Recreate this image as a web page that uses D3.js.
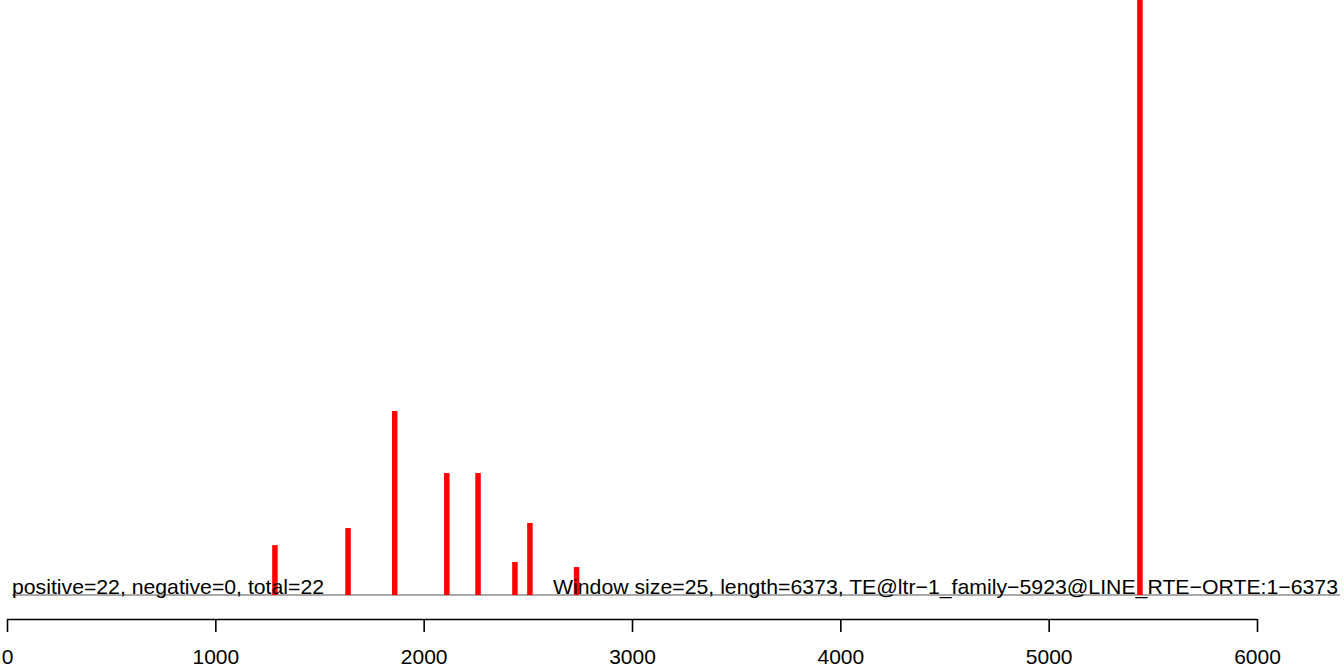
<!DOCTYPE html>
<html>
<head>
<meta charset="utf-8">
<script src="https://cdn.jsdelivr.net/npm/d3@7"></script>
<style>
  html, body { margin: 0; padding: 0; background: #fff; }
  svg { display: block; }
  text { font-family: "Liberation Sans", Arial, Helvetica, sans-serif; }
</style>
</head>
<body>
<svg id="chart" width="1344" height="665"></svg>
<script>
// Data
const positions = [1286, 1637, 1861, 2111, 2261, 2438, 2510, 2734, 5438];
const values    = [3.02, 4.05, 11.13, 7.38, 7.38, 2.0, 4.36, 1.69, 36];
const xTicks    = [0, 1000, 2000, 3000, 4000, 5000, 6000];
const leftLabel  = "positive=22, negative=0, total=22";
const rightLabel = "Window size=25, length=6373, TE@ltr\u22121_family\u22125923@LINE_RTE\u2212ORTE:1\u22126373";

const svg = d3.select("#chart");
const x = d3.scaleLinear().domain([0, 6000]).range([7, 1257]);
const y = d3.scaleLinear().domain([0, 36]).range([595, 0]);

// baseline
svg.append("line")
  .attr("x1", 12).attr("x2", 1340)
  .attr("y1", y(0)).attr("y2", y(0))
  .attr("stroke", "#555").attr("stroke-width", 1.2);

// bars
const bw = 5.5;
svg.append("g").selectAll("rect")
  .data(positions.map((p, i) => ({p, v: values[i]})))
  .join("rect")
  .attr("x", d => x(d.p) - bw / 2)
  .attr("width", bw)
  .attr("y", d => y(d.v))
  .attr("height", d => y(0) - y(d.v))
  .attr("fill", "#ff0000");

// labels on baseline
svg.append("text")
  .attr("x", 12).attr("y", 594)
  .attr("font-size", 21)
  .attr("fill", "#000")
  .attr("textLength", 312).attr("lengthAdjust", "spacingAndGlyphs")
  .text(leftLabel);

svg.append("text")
  .attr("x", 553).attr("y", 594)
  .attr("font-size", 21)
  .attr("fill", "#000")
  .attr("textLength", 785).attr("lengthAdjust", "spacingAndGlyphs")
  .text(rightLabel);

// axis
const axis = d3.axisBottom(x).tickValues(xTicks).tickFormat(d3.format("d"))
  .tickSizeInner(13).tickSizeOuter(0).tickPadding(17);
const gAxis = svg.append("g").attr("transform", "translate(0,619)").call(axis);
gAxis.select(".domain").attr("stroke", "#000").attr("stroke-width", 1.6);
gAxis.selectAll(".tick line").attr("stroke", "#000").attr("stroke-width", 1.6);
gAxis.selectAll(".tick text")
  .attr("font-family", "'Liberation Sans', Arial, Helvetica, sans-serif")
  .attr("font-size", 21).attr("fill", "#000");
</script>
</body>
</html>
